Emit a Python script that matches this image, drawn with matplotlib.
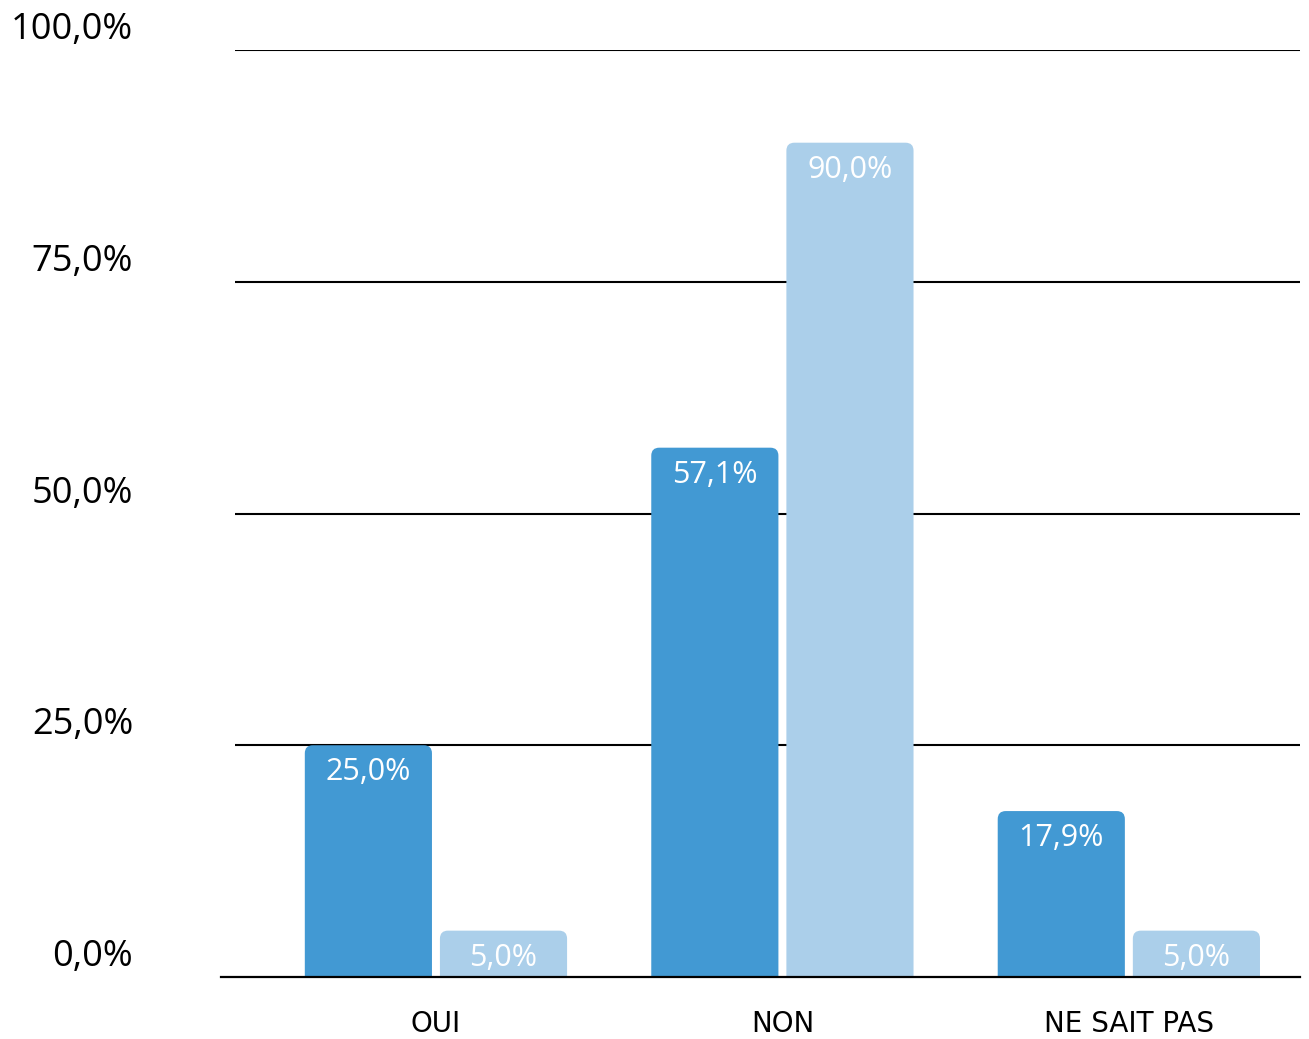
import numpy as np
import matplotlib.pyplot as plt
from matplotlib.patches import FancyBboxPatch
import matplotlib.transforms as mtransforms

categories = ['OUI', 'NON', 'NE SAIT PAS']
serie_a = [25.0, 57.1, 17.9]
serie_b = [5.0, 90.0, 5.0]
yticks = [0, 25, 50, 75, 100]

col_a = '#4299d3'
col_b = '#abcfea'

W, H = 1309, 1039
fig = plt.figure(figsize=(W/100, H/100), dpi=100)
ax = fig.add_axes([235/W, 1-977/H, (1300-235)/W, (977-50)/H])
ax.set_xlim(-0.58, 2.494)
ax.set_ylim(0, 100)
ax.axis('off')

# lignes de grille
for t in yticks[1:]:
    ax.axhline(t, color='black', lw=1.5, zorder=1)
ax.plot([-0.62, 2.494], [0, 0], color='black', lw=1.6, zorder=4, clip_on=False)

x = np.arange(len(categories))
bw = 0.367
off = 0.195
px_x = 1/346.5
px_y = 100/927
r = 8*px_x
aspect = px_y/px_x

def rbar(xc, h, color):
    # barre arrondie en haut, le bas est coupé par l'axe
    p = FancyBboxPatch((xc-bw/2, -3), bw, h+3,
                       boxstyle='round,pad=0,rounding_size=%f' % r,
                       mutation_aspect=aspect, fc=color, ec='none', zorder=3)
    ax.add_patch(p)
    ax.annotate(('%.1f%%' % h).replace('.', ','), (xc, h), xytext=(0, -27),
                textcoords='offset pixels', ha='center', va='center',
                color='white', fontsize=22, family='Open Sans', zorder=5)

for i in range(len(categories)):
    rbar(x[i]-off, serie_a[i], col_a)
    rbar(x[i]+off, serie_b[i], col_b)

# libellés des catégories
for i, c in enumerate(categories):
    ax.annotate(c, (x[i], 0), xytext=(0, -47), textcoords='offset pixels',
                ha='center', va='center', fontsize=20, family='DejaVu Sans',
                color='black')

# graduations
tr = mtransforms.blended_transform_factory(fig.transFigure, ax.transData)
for t in yticks:
    ax.annotate(('%.1f%%' % t).replace('.', ','), (133/W, t), xycoords=tr,
                xytext=(0, 20), textcoords='offset pixels',
                ha='right', va='center', fontsize=26, family='Open Sans', color='black')

fig.savefig('out.png', dpi=100)
